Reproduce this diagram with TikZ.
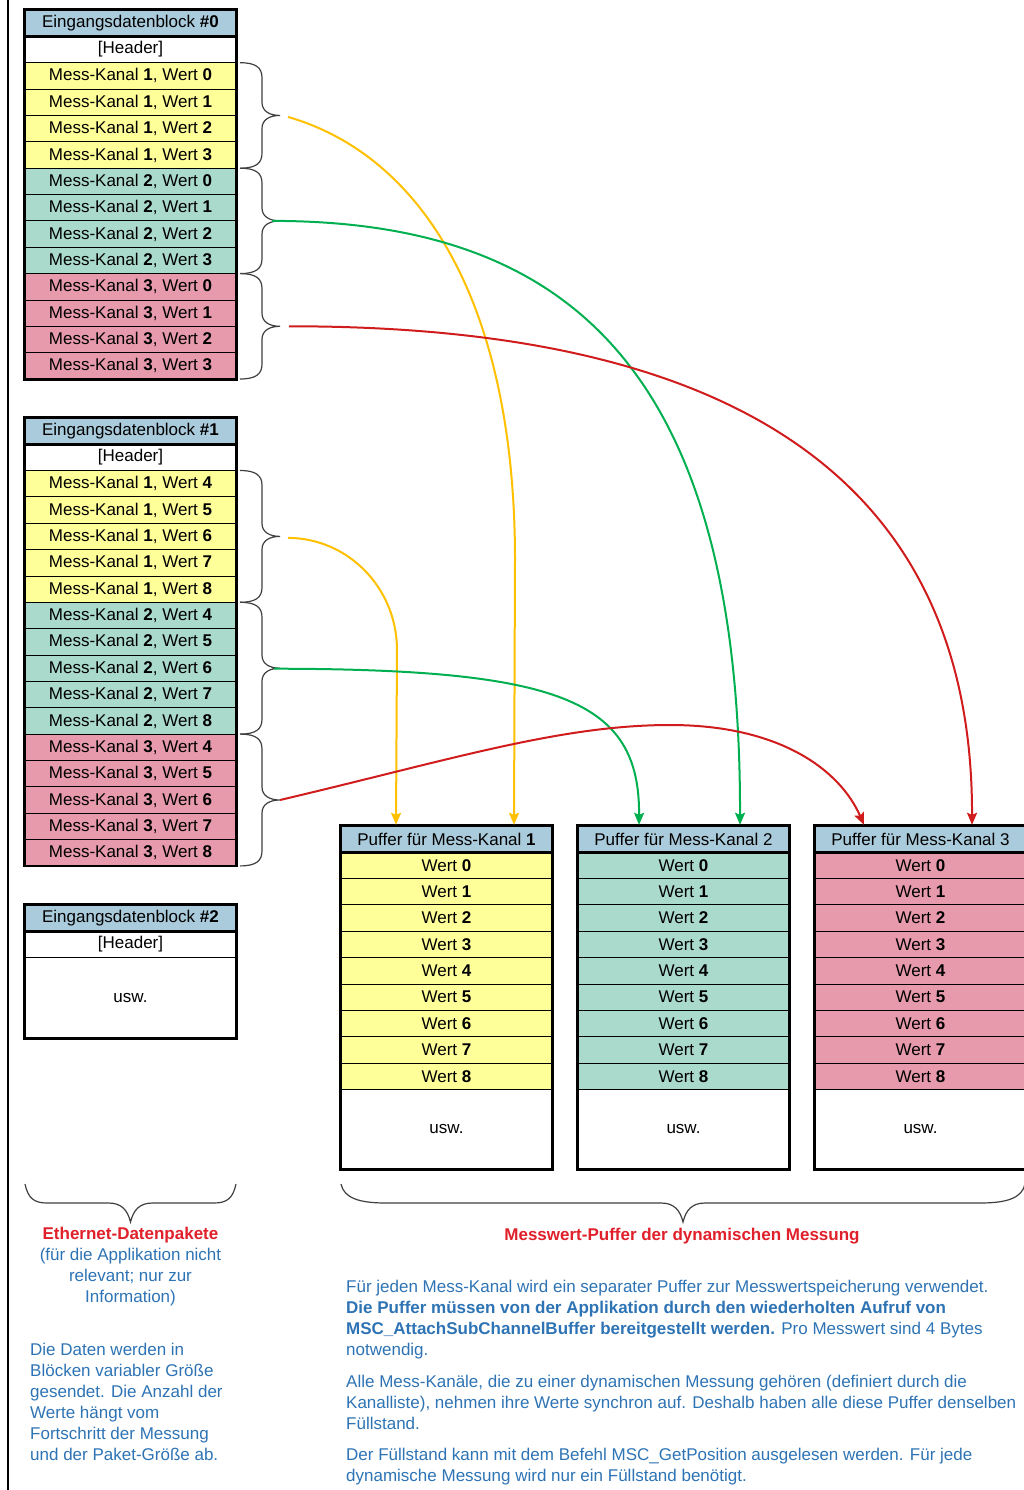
\documentclass[tikz,border=0pt]{standalone}
\usepackage{fontspec}
\setmainfont{Liberation Sans}
\usetikzlibrary{calc,arrows.meta}
\definecolor{ttl}{HTML}{AACBDB}
\definecolor{cy}{HTML}{FFFF99}
\definecolor{cg}{HTML}{AADACB}
\definecolor{cp}{HTML}{E69AAC}
\definecolor{txtblue}{HTML}{2E74B5}
\definecolor{txtred}{HTML}{E0202A}
\definecolor{ay}{HTML}{FFC000}
\definecolor{ag}{HTML}{00B050}
\definecolor{ar}{HTML}{D01C1C}
\newcommand{\myrbrace}[3]{%
  \pgfmathsetmacro\brA{#1}\pgfmathsetmacro\brB{#2}\pgfmathsetmacro\brM{(#1+#2)/2}%
  \draw[bracestyle] (240,\brA) .. controls (256,\brA) and (262,\brA+5) .. (262,\brA+15)
    -- (262,\brM-13) .. controls (262,\brM-4) and (270,\brM) .. (280,\brM)
    .. controls (270,\brM) and (262,\brM+4) .. (262,\brM+13)
    -- (262,\brB-15) .. controls (262,\brB-5) and (256,\brB) .. (240,\brB);
  \coordinate (#3) at (280,\brM);}
\newcommand{\myhbrace}[4]{%
  \pgfmathsetmacro\brA{#1}\pgfmathsetmacro\brB{#2}\pgfmathsetmacro\brM{#3}\pgfmathsetmacro\brE{#4}%
  \draw[bracestyle] (\brA,1184) .. controls (\brA+3,1198) and (\brA+\brE*0.4,1203) .. (\brA+\brE,1203)
    -- (\brM-22,1203) .. controls (\brM-9,1203) and (\brM-3,1210) .. (\brM,1222)
    .. controls (\brM+3,1210) and (\brM+9,1203) .. (\brM+22,1203)
    -- (\brB-\brE,1203) .. controls (\brB-\brE*0.4,1203) and (\brB-3,1198) .. (\brB,1184);}
\begin{document}
\begin{tikzpicture}[x=1pt,y=-1pt,
  cell/.style={draw=black, line width=0.9pt, minimum width=211pt, minimum height=26.36pt,
    inner sep=0pt, font=\fontsize{17}{20}\selectfont},
  ttlcell/.style={cell, fill=ttl, line width=2pt},
  outer/.style={draw=black, line width=2.2pt},
  bracestyle/.style={draw=black!75, line width=1.2pt},
  arr/.style={line width=2pt, -{Stealth[length=12pt,width=10pt,inset=2pt]}},
  txt/.style={inner sep=0pt, font=\fontsize{17}{20}\selectfont, text=txtblue},
  redtitle/.style={inner sep=0pt, font=\fontsize{17}{20}\selectfont\bfseries, text=txtred}]
\useasboundingbox (0,0) rectangle (1023,1490);
\fill[white] (0,0) rectangle (1023,1490);
\draw[line width=2.5pt] (8,0) -- (8,1490);

% ---------- Block #0
\node[ttlcell] (b0t) at (130.5,23.18) {Eingangsdatenblock \textbf{\#0}};
\node[cell, fill=white] (b0h) at (130.5,49.54) {[Header]};
\foreach \ch/\col in {1/cy,2/cg,3/cp}{
  \foreach \w in {0,...,3}{
    \pgfmathsetmacro\yy{75.9+26.36*((\ch-1)*4+\w)}
    \node[cell, fill=\col] (b0r\ch\w) at (130.5,\yy) {Mess-Kanal \textbf{\ch}, Wert \textbf{\w}};
  }}
\draw[outer] (b0t.north west) rectangle (b0r33.south east);
\draw[outer] (b0t.north west) rectangle (b0t.south east);

% ---------- Block #1
\node[ttlcell] (b1t) at (130.5,430.98) {Eingangsdatenblock \textbf{\#1}};
\node[cell, fill=white] (b1h) at (130.5,457.34) {[Header]};
\foreach \ch/\col in {1/cy,2/cg,3/cp}{
  \foreach \w in {4,...,8}{
    \pgfmathsetmacro\yy{483.7+26.36*((\ch-1)*5+\w-4)}
    \node[cell, fill=\col] (b1r\ch\w) at (130.5,\yy) {Mess-Kanal \textbf{\ch}, Wert \textbf{\w}};
  }}
\draw[outer] (b1t.north west) rectangle (b1r38.south east);
\draw[outer] (b1t.north west) rectangle (b1t.south east);

% ---------- Block #2
\node[ttlcell] (b2t) at (130.5,918) {Eingangsdatenblock \textbf{\#2}};
\node[cell, fill=white] (b2h) at (130.5,944.36) {[Header]};
\node[cell, fill=white, minimum height=80.5pt] (b2u) at (130.5,997.8) {usw.};
\draw[outer] (b2t.north west) rectangle (b2u.south east);
\draw[outer] (b2t.north west) rectangle (b2t.south east);

% ---------- Buffers
\foreach \n/\xc/\col/\lab in {1/446.5/cy/\textbf{1},2/683.5/cg/2,3/920.5/cp/3}{
  \node[ttlcell] (p\n t) at (\xc,839) {Puffer für Mess-Kanal \lab};
  \foreach \w in {0,...,8}{
    \pgfmathsetmacro\yy{865.36+26.36*\w}
    \node[cell, fill=\col] (p\n r\w) at (\xc,\yy) {Wert \textbf{\w}};
  }
  \node[cell, fill=white, minimum height=79.6pt] (p\n u) at (\xc,1129.2) {usw.};
  \draw[outer] (p\n t.north west) rectangle (p\n u.south east);
  \draw[outer] (p\n t.north west) rectangle (p\n t.south east);
}

% ---------- Braces
\myrbrace{62.7}{168.2}{k0a}
\myrbrace{168.2}{273.6}{k0b}
\myrbrace{273.6}{379.0}{k0c}
\myrbrace{470.5}{602.3}{k1a}
\myrbrace{602.3}{734.1}{k1b}
\myrbrace{734.1}{865.9}{k1c}
\myhbrace{25}{236}{130.5}{22}
\myhbrace{341}{1025}{683}{45}

% ---------- Arrow ends
\coordinate (s0y) at ($(k0a)+(8,1.5)$);
\coordinate (s0g) at ($(k0b)+(-8,0)$);
\coordinate (s0r) at ($(k0c)+(9,0)$);
\coordinate (s1y) at ($(k1a)+(8,1.5)$);
\coordinate (s1g) at ($(k1b)+(-6,0.5)$);
\coordinate (s1r) at ($(k1c)+(0,0)$);
\coordinate (p1a) at ($(p1t.north west)+(56,0)$);
\coordinate (p1b) at ($(p1t.north west)+(174,0)$);
\coordinate (p2a) at ($(p2t.north west)+(62,0)$);
\coordinate (p2b) at ($(p2t.north west)+(163,0)$);
\coordinate (p3a) at ($(p3t.north west)+(50,0)$);
\coordinate (p3b) at ($(p3t.north west)+(158,0)$);

\draw[arr, ay] (s0y) .. controls (420,155) and (515,300) .. (515,560) -- (p1b);
\draw[arr, ag] (s0g) .. controls (560,221) and (741,360) .. (p2b);
\draw[arr, ar] (s0r) .. controls (640,326) and (973,420) .. (p3b);
\draw[arr, ay] (s1y) .. controls (348,538) and (397,588) .. (397,650) -- (p1a);
\draw[arr, ag] (s1g) .. controls (560,669) and (640,700) .. (p2a);
\draw[arr, ar] (s1r) .. controls (450,760) and (560,725) .. (670,725)
  .. controls (780,725) and (840,770) .. (p3a);

% ---------- Texts left
\node[redtitle, anchor=base] (l1) at (130.5,1239) {Ethernet-Datenpakete};
\node[txt, anchor=base] (l2) at (130.5,1260) {(für die Applikation nicht};
\node[txt, anchor=base] (l3) at (130.5,1281) {relevant; nur zur};
\node[txt, anchor=base] (l4) at (130.5,1302) {Information)};
\node[txt, anchor=base west] (m1) at (30,1355) {Die Daten werden in};
\node[txt, anchor=base west] (m2) at (30,1376) {Blöcken variabler Größe};
\node[txt, anchor=base west] (m3) at (30,1397) {gesendet. Die Anzahl der};
\node[txt, anchor=base west] (m4) at (30,1418) {Werte hängt vom};
\node[txt, anchor=base west] (m5) at (30,1439) {Fortschritt der Messung};
\node[txt, anchor=base west] (m6) at (30,1460) {und der Paket-Größe ab.};

% ---------- Texts right
\node[redtitle, anchor=base] (r0) at (682,1240) {Messwert-Puffer der dynamischen Messung};
\node[txt, anchor=base west] (r1) at (346,1292) {Für jeden Mess-Kanal wird ein separater Puffer zur Messwertspeicherung verwendet.};
\node[txt, anchor=base west] (r2) at (346,1313) {\bfseries Die Puffer müssen von der Applikation durch den wiederholten Aufruf von};
\node[txt, anchor=base west] (r3) at (346,1334) {\textbf{MSC\_AttachSubChannelBuffer bereitgestellt werden.} Pro Messwert sind 4 Bytes};
\node[txt, anchor=base west] (r4) at (346,1355) {notwendig.};
\node[txt, anchor=base west] (r5) at (346,1387) {Alle Mess-Kanäle, die zu einer dynamischen Messung gehören (definiert durch die};
\node[txt, anchor=base west] (r6) at (346,1408) {Kanalliste), nehmen ihre Werte synchron auf. Deshalb haben alle diese Puffer denselben};
\node[txt, anchor=base west] (r7) at (346,1429) {Füllstand.};
\node[txt, anchor=base west] (r8) at (346,1460) {Der Füllstand kann mit dem Befehl MSC\_GetPosition ausgelesen werden. Für jede};
\node[txt, anchor=base west] (r9) at (346,1481) {dynamische Messung wird nur ein Füllstand benötigt.};
\end{tikzpicture}
\end{document}
